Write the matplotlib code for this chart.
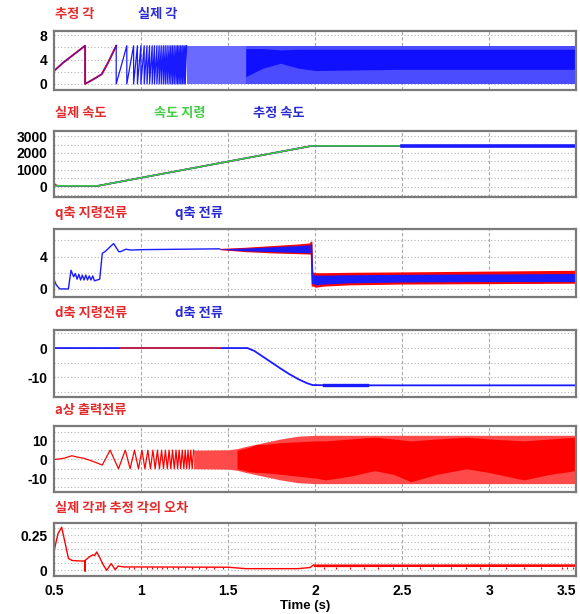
import matplotlib
matplotlib.use("Agg")
import matplotlib.pyplot as plt

# ---------------- data ----------------
# panel 1: rotor angle (rad)
ang_head_t = [0.5, 0.55, 0.676, 0.676, 0.72, 0.772, 0.81, 0.855]
ang_head_v = [2.2, 3.5, 6.28, 0.0, 0.7, 1.6, 3.6, 6.28]
ang_reset_t = [0.855, 0.916, 0.955, 0.977, 0.997, 1.016, 1.032, 1.047,
               1.062, 1.075, 1.089, 1.102, 1.114, 1.126, 1.137, 1.148,
               1.159, 1.169, 1.179, 1.189, 1.199, 1.208, 1.217, 1.226,
               1.235, 1.244, 1.252, 1.260]
ang_top = 6.28
ang_core_t = [1.6, 1.7, 1.8, 1.9, 2.0, 2.5, 3.0, 3.5]
ang_core_lo = [1.2, 2.6, 3.4, 2.6, 2.2, 2.4, 2.4, 2.4]
ang_core_hi = [5.8, 5.8, 5.6, 5.7, 5.7, 5.7, 5.7, 5.7]

# panel 2: speed (rpm)
spd_cmd_t = [0.5, 0.75, 1.98, 2.5]
spd_cmd_v = [60, 60, 2420, 2420]
spd_est_t = [0.5, 0.75, 1.98, 3.5]
spd_est_v = [60, 60, 2420, 2420]
spd_act_t = [0.5, 0.505, 0.52, 0.75, 1.98, 3.5]
spd_act_v = [180, 120, 60, 60, 2420, 2420]

# panel 3: q-axis current (A)
iq_t = [0.5, 0.51, 0.53, 0.58, 0.595, 0.61, 0.62, 0.63, 0.64, 0.65, 0.66,
        0.67, 0.68, 0.69, 0.70, 0.71, 0.72, 0.73, 0.745, 0.76, 0.775, 0.79,
        0.81, 0.84, 0.87, 0.88, 0.91, 0.94, 1.0, 1.45]
iq_v = [1.0, 0.5, 0.0, 0.0, 2.3, 1.5, 1.9, 1.2, 1.8, 1.1, 1.7, 1.1, 1.7,
        1.1, 1.6, 1.1, 1.6, 1.0, 1.1, 1.2, 4.4, 4.6, 5.0, 5.6, 4.6, 4.6,
        4.9, 4.8, 4.85, 4.95]
iq_a_t = [1.45, 1.6, 1.75, 1.9, 1.978]
iq_a_red_hi = [5.0, 5.15, 5.35, 5.55, 5.7]
iq_a_red_lo = [4.85, 4.6, 4.45, 4.35, 4.3]
iq_a_blu_hi = [4.95, 5.05, 5.2, 5.35, 5.45]
iq_a_blu_lo = [4.9, 4.7, 4.6, 4.5, 4.45]
iq_b_t = [1.985, 2.0, 2.05, 2.2, 2.5, 3.0, 3.5]
iq_b_red_hi = [2.1, 2.0, 2.0, 2.05, 2.1, 2.2, 2.3]
iq_b_red_lo = [0.4, 0.2, 0.35, 0.5, 0.6, 0.65, 0.7]
iq_b_blu_hi = [1.8, 1.7, 1.7, 1.75, 1.8, 1.85, 1.9]
iq_b_blu_lo = [0.7, 0.5, 0.6, 0.75, 0.85, 0.9, 0.9]

# panel 4: d-axis current (A)
id_t = [0.5, 1.61, 1.65, 1.70, 1.75, 1.80, 1.85, 1.90, 1.95, 1.985, 2.1, 3.5]
id_v = [0.0, 0.0, -1.0, -3.0, -5.0, -7.0, -8.9, -10.6, -12.0, -12.7, -12.8, -12.8]
id_cmd_t = [0.88, 1.45]
id_cmd_v = [0.0, 0.0]

# panel 5: phase-a current (A)
ia_t = [0.5, 0.53, 0.56, 0.60, 0.63, 0.67, 0.72, 0.775, 0.82, 0.868, 0.907,
        0.935, 0.96, 0.983, 1.003, 1.02, 1.037, 1.052, 1.066, 1.079, 1.092,
        1.104, 1.116, 1.127, 1.138, 1.149, 1.159, 1.169, 1.179, 1.189, 1.199,
        1.208, 1.217, 1.226, 1.235, 1.244, 1.252, 1.260, 1.268, 1.276, 1.284,
        1.292, 1.300]
ia_v = [0.0, 0.3, 0.8, 2.0, 1.3, 0.6, -1.0, -3.0, 5.0, -5.0, 5.0, -5.0, 5.0,
        -5.0, 5.0, -5.0, 5.0, -5.0, 5.0, -5.0, 5.0, -5.0, 5.0, -5.0, 5.0,
        -5.0, 5.0, -5.0, 5.0, -5.0, 5.0, -5.0, 5.0, -5.0, 5.0, -5.0, 5.0,
        -5.0, 5.0, -5.0, 5.0, -5.0, 5.0]
ia_env_t = [1.3, 1.5, 1.55, 1.6, 1.65, 1.7, 1.8, 1.9, 2.0, 3.5]
ia_env_hi = [5.0, 5.2, 5.8, 7.0, 8.0, 9.0, 11.0, 12.5, 13.0, 13.0]
ia_env_lo = [-5.0, -5.2, -5.8, -7.0, -8.0, -9.0, -11.0, -12.5, -13.0, -13.0]
ia_core_t = [1.55, 1.62, 1.66, 1.7, 1.8, 1.9, 2.0, 2.06, 2.2, 2.34, 2.45,
             2.55, 2.7, 2.87, 3.0, 3.2, 3.35, 3.5]
ia_core_hi = [5, 6.5, 8, 8, 9, 9.5, 10, 10, 11, 12, 11, 10, 11, 12, 11, 10, 11, 12]
ia_core_lo = [-5, -6.5, -7, -7, -8, -9, -10, -11, -9, -6, -8, -12, -8, -5,
              -7, -11, -8, -6]

# panel 6: angle error (rad)
err_t = [0.5, 0.52, 0.541, 0.56, 0.58, 0.6, 0.65, 0.676, 0.676, 0.676, 0.70,
         0.72, 0.73, 0.743, 0.76, 0.78, 0.80, 0.826, 0.849, 0.866, 0.9, 1.0,
         1.5, 1.6, 1.9, 1.97, 1.99]
err_v = [0.15, 0.26, 0.305, 0.2, 0.085, 0.07, 0.066, 0.066, -0.005, 0.07,
         0.095, 0.11, 0.105, 0.13, 0.09, 0.04, 0.0, 0.048, 0.005, 0.03, 0.024,
         0.024, 0.022, 0.012, 0.012, 0.02, 0.038]
err_band_t = [1.99, 2.5, 3.0, 3.5]
err_band_lo = [0.026, 0.027, 0.027, 0.028]
err_band_hi = [0.045, 0.045, 0.046, 0.046]
err_spike_t = [0.93, 0.96, 1.0, 1.03, 1.06, 1.09, 1.12, 1.15, 1.18, 1.21,
               1.25, 1.29, 1.33, 1.37, 1.42, 1.47, 2.05, 2.12, 2.2, 2.28,
               2.36, 2.45, 2.53, 2.6, 2.68, 2.78, 2.87, 2.95, 3.0, 3.1, 3.2,
               3.3, 3.42, 3.45, 3.48]
err_spike_base = 0.024
err_spike_tip = 0.006

x_ticks = [0.5, 1, 1.5, 2, 2.5, 3, 3.5]
x_tick_labels = ["0.5", "1", "1.5", "2", "2.5", "3", "3.5"]

# ---------------- style ----------------
RED = "#ff0000"
BLUE = "#1a1aff"
GREEN = "#3ccf3c"
T_RED = "#e42a2a"
T_BLUE = "#2a2ad2"
T_GREEN = "#44cc44"
TICK_FONT = dict(family="Liberation Sans", weight="bold", size=10)
KR = ["Noto Sans CJK KR", "DejaVu Sans"]

W, H = 580, 614
fig = plt.figure(figsize=(W / 100, H / 100), dpi=100)
fig.patch.set_facecolor("white")


def make_axes(top, bottom, ylim, yticks, ylabels, ygrid):
    ax = fig.add_axes([54.5 / W, 1 - bottom / H, (576 - 54.5) / W, (bottom - top) / H])
    ax.set_xlim(0.5, 3.5)
    ax.set_ylim(*ylim)
    ax.set_yticks(yticks)
    ax.set_yticklabels(ylabels, fontdict=TICK_FONT)
    ax.set_xticks(x_ticks)
    ax.tick_params(length=0, pad=5)
    ax.tick_params(axis="x", labelbottom=False)
    for g in ygrid:
        ax.axhline(g, color="#b4b4b4", lw=0.8, ls=(0, (1, 2)), zorder=0)
    for x in x_ticks[1:-1]:
        ax.axvline(x, color="#a8a8a8", lw=0.8, ls=(0, (3, 2)), zorder=0)
    for s in ax.spines.values():
        s.set_color("#7a7a7a")
        s.set_linewidth(1.6)
    return ax


def title(y, items):
    for x, text, color in items:
        fig.text(x / W, 1 - y / H, text, color=color, family=KR, weight="bold",
                 fontsize=9.5, va="center", ha="left")


# panel 1
ax1 = make_axes(31, 90, (-1.0, 8.7), [0, 4, 8], ["0", "4", "8"], [0, 2, 4, 6, 8])
saw_t, saw_v = [], []
for a, b in zip(ang_reset_t[:-1], ang_reset_t[1:]):
    saw_t += [a, a, b]
    saw_v += [ang_top, 0.0, ang_top]
ax1.plot(ang_head_t, ang_head_v, color=RED, lw=1.4)
ax1.plot(ang_head_t, ang_head_v, color=BLUE, lw=0.9, alpha=0.7)
ax1.plot(saw_t, saw_v, color=BLUE, lw=0.9)
ax1.fill_between([ang_reset_t[-1], ang_core_t[0]], 0, ang_top, color="#6a6aff", lw=0)
ax1.fill_between([ang_core_t[0], 3.5], 0, ang_top, color="#4c4cff", lw=0)
ax1.fill_between(ang_core_t, ang_core_lo, ang_core_hi, color="#1010ff", lw=0)
title(14, [(55, "추정 각", T_RED), (138, "실제 각", T_BLUE)])

# panel 2
ax2 = make_axes(131, 197, (-600, 3300), [0, 1000, 2000, 3000],
                ["0", "1000", "2000", "3000"], [-500, 0, 500, 1000, 1500, 2000, 2500, 3000])
ax2.plot(spd_act_t, spd_act_v, color=RED, lw=1.2)
ax2.plot(spd_est_t, spd_est_v, color=BLUE, lw=1.2)
ax2.plot(spd_cmd_t, spd_cmd_v, color=GREEN, lw=1.1)
ax2.plot([2.5, 3.5], [spd_est_v[-1], spd_est_v[-1]], color=BLUE, lw=2.6)
title(113, [(55, "실제 속도", T_RED), (154, "속도 지령", T_GREEN), (253, "추정 속도", T_BLUE)])

# panel 3
ax3 = make_axes(229, 297, (-1.0, 7.4), [0, 4], ["0", "4"], [0, 2, 4, 6])
ax3.plot(iq_t, iq_v, color=BLUE, lw=1.0)
ax3.fill_between(iq_a_t, iq_a_red_lo, iq_a_red_hi, color=RED, lw=0)
ax3.fill_between(iq_a_t, iq_a_blu_lo, iq_a_blu_hi, color=BLUE, lw=0)
ax3.plot([iq_a_t[-1], iq_b_t[0]], [iq_a_red_hi[-1], iq_b_red_lo[0]], color=RED, lw=1.4)
ax3.plot([iq_a_t[-1], iq_b_t[0]], [iq_a_blu_hi[-1], iq_b_blu_lo[0]], color=BLUE, lw=1.2)
ax3.fill_between(iq_b_t, iq_b_red_lo, iq_b_red_hi, color=RED, lw=0)
ax3.fill_between(iq_b_t, iq_b_blu_lo, iq_b_blu_hi, color=BLUE, lw=0)
title(213, [(55, "q축 지령전류", T_RED), (175, "q축 전류", T_BLUE)])

# panel 4
ax4 = make_axes(330, 397, (-16.8, 6.2), [-10, 0], ["-10", "0"], [-15, -10, -5, 0, 5])
ax4.plot(id_t, id_v, color=BLUE, lw=1.3)
ax4.plot(id_cmd_t, id_cmd_v, color="#d02040", lw=1.3)
ax4.plot([2.05, 2.3], [-12.8, -12.8], color=BLUE, lw=2.4)
title(313, [(55, "d축 지령전류", T_RED), (175, "d축 전류", T_BLUE)])

# panel 5
ax5 = make_axes(426, 492, (-17.5, 18.0), [-10, 0, 10], ["-10", "0", "10"],
                [-15, -10, -5, 0, 5, 10, 15])
ax5.plot(ia_t, ia_v, color=RED, lw=0.9)
ax5.fill_between(ia_env_t, ia_env_lo, ia_env_hi, color="#ff4a4a", lw=0)
ax5.fill_between(ia_core_t, ia_core_lo, ia_core_hi, color=RED, lw=0)
title(410, [(55, "a상 출력전류", T_RED)])

# panel 6
ax6 = make_axes(523, 576, (-0.04, 0.335), [0, 0.25], ["0", "0.25"],
                [0, 0.05, 0.1, 0.15, 0.2, 0.25, 0.3])
ax6.plot(err_t, err_v, color=RED, lw=1.0)
ax6.fill_between(err_band_t, err_band_lo, err_band_hi, color=RED, lw=0)
ax6.vlines(err_spike_t, err_spike_tip, err_spike_base, color=RED, lw=0.8)
title(508, [(55, "실제 각과 추정 각의 오차", T_RED)])

ax6.tick_params(axis="x", labelbottom=True, pad=6)
ax6.set_xticklabels(x_tick_labels, fontdict=dict(family="Liberation Sans", weight="bold", size=10))
ax6.get_xticklabels()[-1].set_ha("right")
fig.text(305 / W, 1 - 606 / H, "Time (s)", family="Liberation Sans", weight="bold",
         fontsize=9.5, ha="center", va="center")

fig.savefig("out.png", dpi=100)
